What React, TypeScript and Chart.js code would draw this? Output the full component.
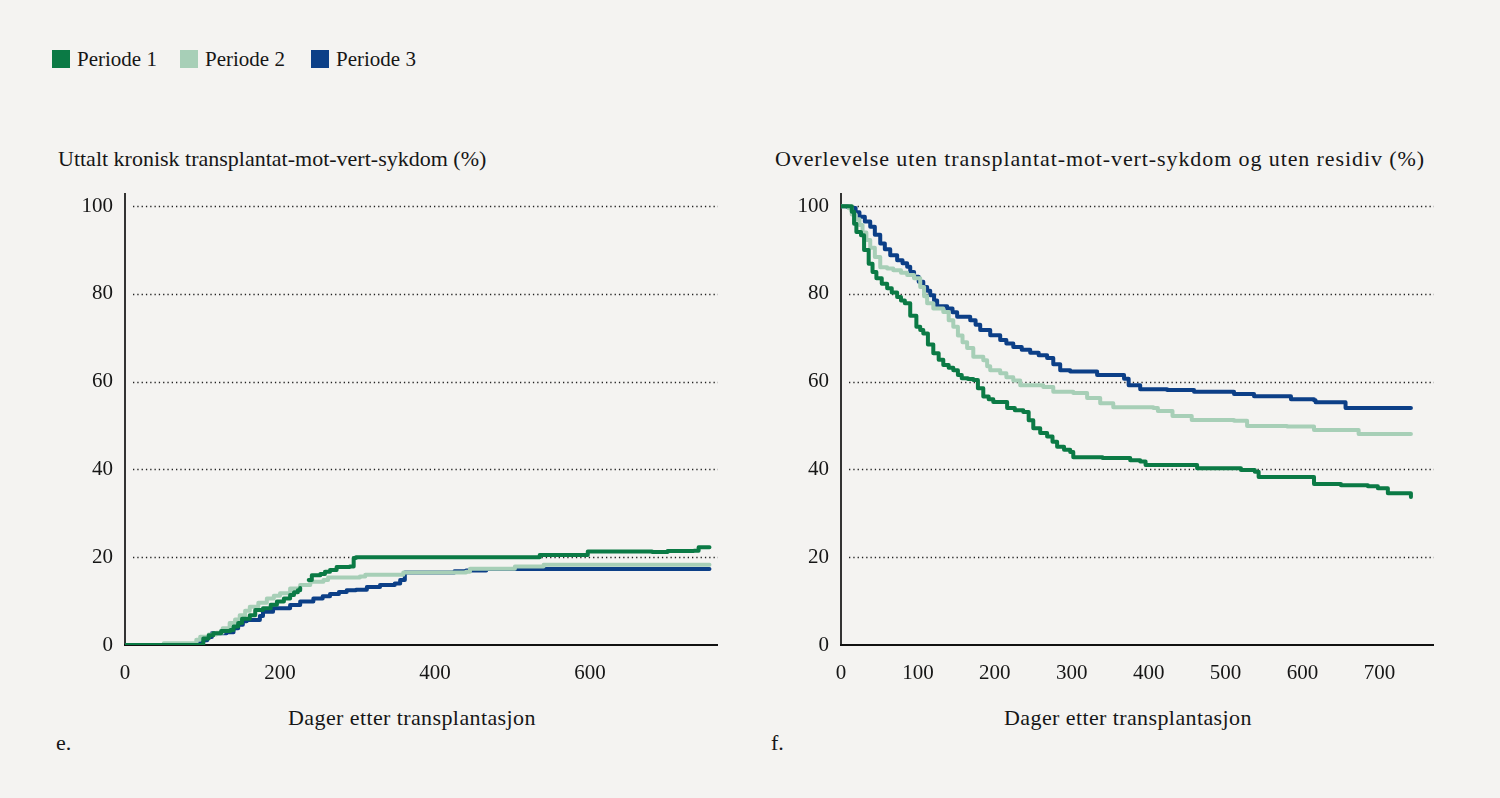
import React, { useEffect, useRef } from "react";
import { Chart, registerables } from "chart.js";

Chart.register(...registerables);

// ---------- DATA ----------
const SERIES_NAMES = ["Periode 1", "Periode 2", "Periode 3"];
const SERIES_COLORS = ["#0b7a45", "#a7cfb7", "#0c3f87"];

const LEFT_TITLE = "Uttalt kronisk transplantat-mot-vert-sykdom (%)";
const RIGHT_TITLE = "Overlevelse uten transplantat-mot-vert-sykdom og uten residiv (%)";
const X_TITLE = "Dager etter transplantasjon";
const LEFT_LABEL = "e.";
const RIGHT_LABEL = "f.";

const LEFT_X_TICKS = [0, 200, 400, 600];
const RIGHT_X_TICKS = [0, 100, 200, 300, 400, 500, 600, 700];
const Y_TICKS = [0, 20, 40, 60, 80, 100];

// Left: cumulative incidence (%), [day, value]
const LEFT_P1: [number, number | null][] = [
  [0, 0], [95, 0], [101, 1.5], [108, 2.2], [114, 2.7], [124, 3.2], [136, 3.4], [140, 4.2],
  [146, 5], [151, 6], [161, 6.8], [168, 8], [178, 8.4], [188, 9.2], [196, 9.9], [205, 10.6],
  [213, 11.4], [218, 12], [223, 12.5], [226, 13], [230, null], [237, 14.8], [241, 15.9],
  [252, 16.2], [258, 16.7], [264.5, 17.1], [273, 17.8], [290, 17.9], [295, 19.8], [298, 20],
  [525, 20], [535, 20.5], [567, 20.5], [597, 21.3], [680, 21.2], [700, 21.4], [734, 21.5],
  [740, 22.3], [754, 22.3],
];
const LEFT_P2: [number, number][] = [
  [0, 0], [48, 0], [50, 0.4], [88, 0.4], [92, 1.2], [97, 1.9], [108, 2.4], [118, 2.8],
  [126, 3.8], [135, 5], [142, 5.8], [148, 6.8], [155, 7.8], [161, 8.7], [172, 9.6], [183, 10.6],
  [192, 11.2], [200, 11.8], [213, 12.9], [226, 13.7], [239, 14.4], [256, 14.8], [262, 15.4],
  [303, 15.6], [310, 16], [359, 16.5], [440, 16.7], [445, 17.4], [503, 17.9], [540, 18.3],
  [754, 18.3],
];
const LEFT_P3: [number, number][] = [
  [0, 0], [92.5, 0], [97, 0.6], [101, 1.1], [106, 1.8], [112, 2.7], [131, 2.9], [140, 3.8],
  [146, 4.6], [152, 5.4], [157, 5.7], [170, 5.7], [174, 6.6], [178, 7.6], [191, 8.4],
  [213, 9.1], [226, 9.9], [243, 10.6], [255, 11.1], [264.5, 11.6], [276, 12.1], [286, 12.5],
  [298, 12.6], [312, 13.2], [329, 13.7], [348, 14], [355, 14.8], [361, 16.5], [413, 16.5],
  [425, 16.8], [440, 17], [466, 17.3], [754, 17.3],
];

// Right: survival (%), [day, value]
const RIGHT_P1: [number, number][] = [
  [0, 100], [8, 100], [14, 98.7], [17, 96], [20, 94.1], [26, 93.4], [30, 90], [36, 86.9],
  [41, 85], [46, 83.6], [53, 82.3], [60, 81.3], [66, 80.3], [73, 79.3], [78, 78.5], [83, 77.9],
  [90, 75], [98, 72.5], [103, 71.8], [107, 71], [113, 68.5], [120, 66.5], [127, 65], [133, 63.8],
  [140, 63.2], [146, 62.6], [152, 61.5], [157, 60.8], [165, 60.6], [172, 60.4], [178, 58.5],
  [185, 56.6], [192, 56], [198, 55.4], [209, 55.4], [216, 54], [226, 53.5], [237, 53.1],
  [244, 51.2], [250, 49.4], [259, 48.3], [268, 47.5], [275, 46.3], [281, 45.2], [290, 44.5],
  [298, 44], [302, 42.8], [340, 42.6], [376, 42.1], [389, 41.8], [396, 41], [446, 41],
  [463, 40.3], [520, 39.9], [538, 39.5], [543, 38.3], [606, 38.3], [615, 36.7], [650, 36.4],
  [685, 36.2], [698, 35.7], [711, 34.6], [728, 34.6], [741, 33.7],
];
const RIGHT_P2: [number, number][] = [
  [0, 100], [10, 99.5], [14, 98.1], [19, 97], [24, 95.7], [28, 94], [33, 92.3], [38, 90.5],
  [44, 88.4], [51, 86.1], [60, 85.8], [68, 85.4], [78, 84.8], [86, 84.3], [95, 83.6],
  [103, 81.6], [108, 79.5], [112, 77.9], [120, 76.7], [133, 75.9], [140, 74], [146, 72.5],
  [152, 70.5], [158, 69], [164, 67.7], [172, 65.7], [185, 64.9], [190, 63.5], [194, 62.6],
  [207, 61.9], [215, 61], [224, 60.3], [233, 59.2], [263, 58.8], [276, 57.7], [302, 57.4],
  [320, 56.3], [337, 55.1], [354, 54.2], [406, 54], [412, 53.3], [431, 52.2], [452, 52.2],
  [456, 51.3], [511, 51.1], [528, 49.9], [580, 49.8], [615, 49], [671, 49], [673, 48.1],
  [741, 48.1],
];
const RIGHT_P3: [number, number][] = [
  [0, 100], [8, 99.8], [14, 99.6], [19, 98.6], [24, 97.6], [31, 96.5], [38, 95.3], [44, 93.5],
  [51, 91.5], [57, 90.2], [64, 88.8], [73, 87.7], [80, 87], [86, 86.2], [90, 85], [95, 83.9],
  [101, 82.8], [107, 81.6], [112, 80.7], [116, 79.7], [121, 78.5], [125, 77.2], [138, 76.7],
  [145, 75.8], [151, 74.8], [168, 74], [175, 73], [181, 71.8], [194, 70.6], [207, 69.5],
  [215, 68.7], [224, 67.9], [235, 67.3], [246, 66.6], [257, 66], [268, 65.4], [276, 64],
  [285, 62.6], [298, 62.3], [333, 61.5], [368, 60.7], [374, 59.2], [389, 58.3], [424, 58.1],
  [459, 57.7], [489, 57.7], [511, 57.2], [537, 56.7], [580, 56.7], [585, 56], [615, 55.8],
  [617, 55.3], [650, 55.3], [656, 54], [741, 54],
];

const LEFT_SERIES = [LEFT_P1, LEFT_P2, LEFT_P3];
const RIGHT_SERIES = [RIGHT_P1, RIGHT_P2, RIGHT_P3];

// ---------- STYLE ----------
const FONT = "'Liberation Serif', 'Times New Roman', serif";
const TEXT = "#161616";
const BG = "#f4f3f1";

const axesPlugin = {
  id: "customAxes",
  beforeDatasetsDraw(chart: any) {
    const { ctx, chartArea, scales } = chart;
    const y = scales.y;
    ctx.save();
    ctx.strokeStyle = "#222";
    ctx.lineWidth = 1.3;
    ctx.setLineDash([1.3, 3]);
    for (const v of Y_TICKS) {
      if (v === 0) continue;
      const py = Math.round(y.getPixelForValue(v)) + 0.5;
      ctx.beginPath();
      ctx.moveTo(chartArea.left + 8, py);
      ctx.lineTo(chartArea.right, py);
      ctx.stroke();
    }
    ctx.setLineDash([]);
    const y0 = y.getPixelForValue(0);
    ctx.strokeStyle = "#333";
    ctx.lineWidth = 2;
    ctx.beginPath();
    ctx.moveTo(chartArea.left, chartArea.top);
    ctx.lineTo(chartArea.left, y0);
    ctx.stroke();
    ctx.strokeStyle = "#111";
    ctx.beginPath();
    ctx.moveTo(chartArea.left - 1, y0);
    ctx.lineTo(chartArea.right, y0);
    ctx.stroke();
    ctx.restore();
  },
};

function KMChart(props: {
  series: [number, number | null][][];
  xMax: number;
  xTicks: number[];
  left: number;
}) {
  const ref = useRef<HTMLCanvasElement | null>(null);
  useEffect(() => {
    if (!ref.current) return;
    const chart = new Chart(ref.current, {
      type: "line",
      data: {
        datasets: props.series.map((s, i) => ({
          label: SERIES_NAMES[i],
          data: s.map(([x, y]) => ({ x, y })) as any,
          borderColor: SERIES_COLORS[i],
          backgroundColor: SERIES_COLORS[i],
          borderWidth: 4,
          pointRadius: 0,
          stepped: true,
          spanGaps: false,
          borderCapStyle: "round",
          borderJoinStyle: "round",
          fill: false,
        })),
      },
      options: {
        animation: false,
        responsive: false,
        devicePixelRatio: 1,
        layout: { padding: { top: 13, right: 32, left: 0, bottom: 0 } },
        plugins: { legend: { display: false }, tooltip: { enabled: false } },
        scales: {
          x: {
            type: "linear",
            min: 0,
            max: props.xMax,
            grid: { display: false, drawTicks: false },
            border: { display: false },
            afterBuildTicks: (s: any) => {
              s.ticks = props.xTicks.map((v) => ({ value: v }));
            },
            afterFit: (s: any) => {
              s.height = 55;
              s.paddingLeft = 0;
              s.paddingRight = 0;
            },
            ticks: {
              padding: 16,
              color: TEXT,
              font: { family: FONT, size: 21 },
              maxRotation: 0,
              autoSkip: false,
            },
          },
          y: {
            type: "linear",
            min: 0,
            max: 103,
            grid: { display: false, drawTicks: false },
            border: { display: false },
            afterBuildTicks: (s: any) => {
              s.ticks = Y_TICKS.map((v) => ({ value: v }));
            },
            afterFit: (s: any) => {
              s.width = 125;
              s.paddingTop = 0;
              s.paddingBottom = 0;
            },
            ticks: {
              padding: 12,
              color: TEXT,
              font: { family: FONT, size: 21 },
            },
          },
        },
      },
      plugins: [axesPlugin],
    });
    return () => chart.destroy();
  }, []);
  return (
    <canvas
      ref={ref}
      width={750}
      height={520}
      style={{ position: "absolute", left: props.left, top: 180, width: 750, height: 520 }}
    />
  );
}

const textStyle = (left: number, top: number, size: number, extra: any = {}) => ({
  position: "absolute" as const,
  left,
  top,
  fontFamily: FONT,
  fontSize: size,
  lineHeight: "26px",
  color: TEXT,
  whiteSpace: "nowrap" as const,
  ...extra,
});

const LEGEND_X = [52, 180, 311];

export default function App() {
  useEffect(() => {
    document.body.style.margin = "0";
    document.body.style.background = BG;
  }, []);
  return (
    <div
      style={{
        position: "fixed",
        left: 0,
        top: 0,
        width: 1500,
        height: 798,
        background: BG,
        overflow: "hidden",
      }}
    >
      {SERIES_NAMES.map((n, i) => (
        <div key={n}>
          <div
            style={{
              position: "absolute",
              left: LEGEND_X[i],
              top: 50,
              width: 18,
              height: 18,
              background: SERIES_COLORS[i],
            }}
          />
          <div style={textStyle(LEGEND_X[i] + 25, 46, 21)}>{n}</div>
        </div>
      ))}
      <div style={textStyle(58, 146, 22)}>{LEFT_TITLE}</div>
      <div style={textStyle(775, 146, 22, { letterSpacing: "0.9px" })}>{RIGHT_TITLE}</div>
      <KMChart series={LEFT_SERIES} xMax={765} xTicks={LEFT_X_TICKS} left={0} />
      <KMChart series={RIGHT_SERIES} xMax={771} xTicks={RIGHT_X_TICKS} left={716} />
      <div style={textStyle(0, 705, 22, { width: 824, textAlign: "center", letterSpacing: "0.4px" })}>{X_TITLE}</div>
      <div style={textStyle(716, 705, 22, { width: 824, textAlign: "center", letterSpacing: "0.4px" })}>{X_TITLE}</div>
      <div style={textStyle(56, 730, 22)}>{LEFT_LABEL}</div>
      <div style={textStyle(771, 730, 22)}>{RIGHT_LABEL}</div>
    </div>
  );
}
